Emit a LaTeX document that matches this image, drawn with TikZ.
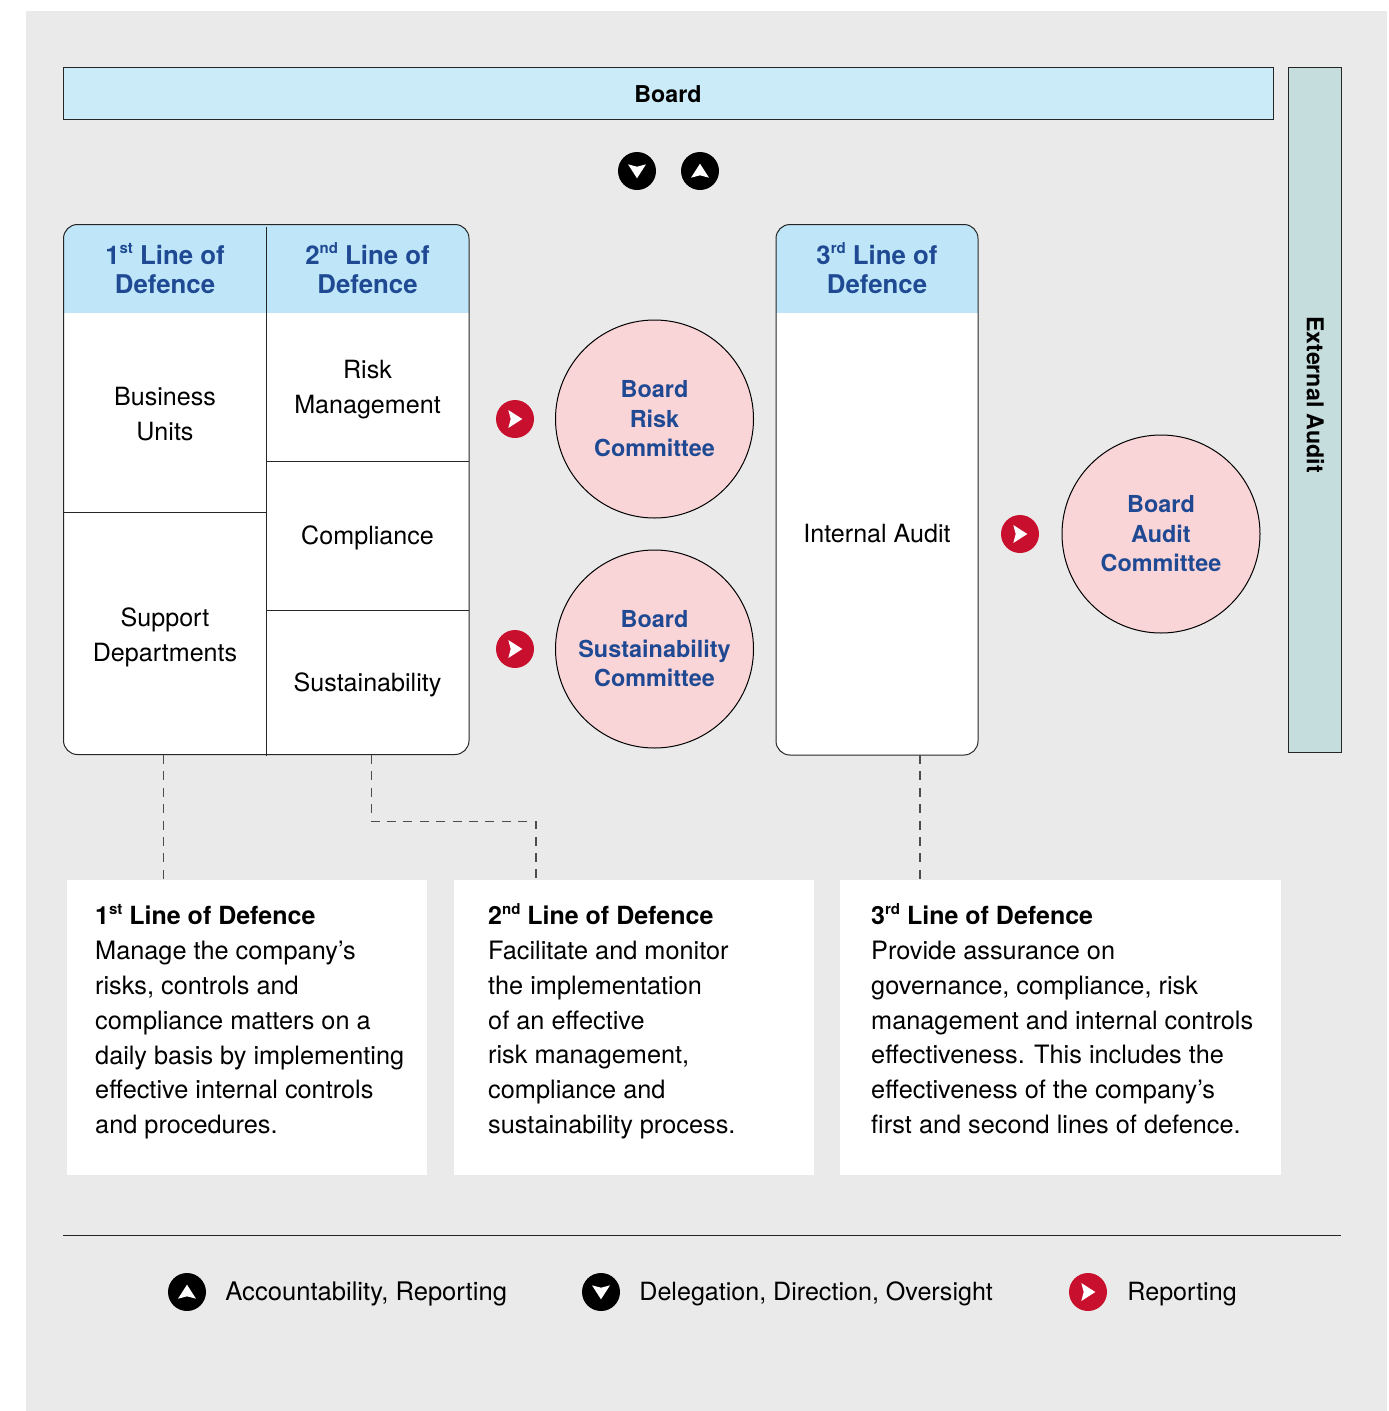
\documentclass[tikz,border=0pt]{standalone}
\usepackage{fontspec}
\setmainfont{TeX Gyre Heros}
\usetikzlibrary{positioning}
\definecolor{panelgrey}{HTML}{EAEAEA}
\definecolor{boardblue}{HTML}{CCEBF9}
\definecolor{headblue}{HTML}{BEE6F8}
\definecolor{auditteal}{HTML}{C6DDDE}
\definecolor{rosefill}{HTML}{FAD5D8}
\definecolor{titleblue}{HTML}{1F4A93}
\definecolor{flagred}{HTML}{C8102E}
\tikzset{
  plain/.style={font=\fontsize{25.1}{35}\selectfont,align=center,inner sep=0pt},
  headtext/.style={font=\fontsize{25.8}{29.5}\bfseries\selectfont,text=titleblue,align=center,inner sep=0pt},
  bartext/.style={font=\fontsize{23.2}{29}\bfseries\selectfont,inner sep=0pt},
  committee/.style={circle,draw,fill=rosefill,line width=1pt,minimum size=198pt,inner sep=0pt,
    font=\fontsize{23.4}{29.5}\bfseries\selectfont,text=titleblue,align=center},
  descbox/.style={fill=white,anchor=north west,inner sep=0pt,minimum height=295pt},
  desctext/.style={font=\fontsize{25.3}{34.8}\selectfont,align=left,anchor=north west,inner sep=0pt},
  icon/.style={circle,minimum size=38pt,inner sep=0pt},
  rule/.style={line width=1pt,black!85},
  dashline/.style={line width=1.3pt,black!70,dash pattern=on 9pt off 7.4pt}
}
\newcommand{\flagicon}[4]{%
  \node[icon,fill=#3] (#1) at (#2) {};
  \fill[white,shift={(#1)},rotate=#4] (-6.7,-9) -- (7.3,0) -- (-6.7,9) -- (-4.3,0) -- cycle;
}
\newcommand{\ordmark}[1]{\raisebox{0.42em}{\fontsize{15}{15}\selectfont #1}}
\newcommand{\desctitle}[1]{{\fontsize{25}{34.8}\bfseries\selectfont #1}}
\begin{document}
\begin{tikzpicture}[x=1pt,y=-1pt]
\useasboundingbox (0,0) rectangle (1389,1411);
\fill [panelgrey] (26,11) rectangle (1387,1411);
% board and external audit bars
\draw [rule,fill=boardblue] (63.5,67.5) rectangle (1273,119.5);
\node [bartext] (board) at (668,94) {Board};
\draw [rule,fill=auditteal] (1288.5,67) rectangle (1341,752);
\node [bartext,rotate=-90] (extaudit) at (1315.5,394.5) {External Audit};
\flagicon{downboard}{637,171}{black}{-90}
\flagicon{upboard}{700,171}{black}{90}
% first and second line table
\fill [white,rounded corners=14pt] (63.5,224.5) rectangle (469,754.5);
\begin{scope}
\clip [rounded corners=14pt] (63.5,224.5) rectangle (469,754.5);
\fill [headblue] (63.5,224.5) rectangle (469,313);
\end{scope}
\draw [rule,rounded corners=14pt] (63.5,224.5) rectangle (469,754.5);
\draw [rule] (266.5,227) -- (266.5,756);
\draw [rule] (64,512) -- (266.5,512);
\draw [rule] (266.5,461) -- (469,461);
\draw [rule] (266.5,610) -- (469,610);
\node [headtext] (headone) at (165,268.5) {1\ordmark{st} Line of\\Defence};
\node [headtext] (headtwo) at (367.5,268) {2\ordmark{nd} Line of\\Defence};
\node [plain] (units) at (165,414) {Business\\Units};
\node [plain] (support) at (165,637) {Support\\Departments};
\node [plain] (riskmgmt) at (367.5,390) {Risk\\Management};
\node [plain] (compliance) at (367.5,537.5) {Compliance};
\node [plain] (sustain) at (367.5,684.5) {Sustainability};
% third line table
\fill [white,rounded corners=14pt] (776,224.5) rectangle (978,755);
\begin{scope}
\clip [rounded corners=14pt] (776,224.5) rectangle (978,755);
\fill [headblue] (776,224.5) rectangle (978,313);
\end{scope}
\draw [rule,rounded corners=14pt] (776,224.5) rectangle (978,755);
\node [headtext] (headthree) at (877,268) {3\ordmark{rd} Line of\\Defence};
\node [plain] (intaudit) at (877,534) {Internal Audit};
% committees
\node [committee] (riskcom) at (654.5,419) {Board\\Risk\\Committee};
\node [committee] (sustcom) at (654.5,649) {Board\\Sustainability\\Committee};
\node [committee] (auditcom) at (1161,534) {Board\\Audit\\Committee};
\flagicon{flagrisk}{515,419}{flagred}{0}
\flagicon{flagsust}{515,649}{flagred}{0}
\flagicon{flagaudit}{1020,534}{flagred}{0}
% description boxes
\node [descbox,minimum width=360pt] (descone) at (67,880) {};
\node [descbox,minimum width=360pt] (desctwo) at (454,880) {};
\node [descbox,minimum width=441pt] (descthree) at (840,880) {};
\node [desctext] (txtone) at (95,904) {\desctitle{1\ordmark{st} Line of Defence}\\Manage the company’s\\risks, controls and\\compliance matters on a\\daily basis by implementing\\effective internal controls\\and procedures.};
\node [desctext] (txttwo) at (488,903) {\desctitle{2\ordmark{nd} Line of Defence}\\Facilitate and monitor\\the implementation\\of an effective\\risk management,\\compliance and\\sustainability process.};
\node [desctext] (txtthree) at (871,903) {\desctitle{3\ordmark{rd} Line of Defence}\\Provide assurance on\\governance, compliance, risk\\management and internal controls\\effectiveness. This includes the\\effectiveness of the company’s\\first and second lines of defence.};
% dashed links
\coordinate (tapone) at (163.5,755);
\coordinate (taptwo) at (371.5,755);
\coordinate (landtwo) at (536,880);
\coordinate (tapthree) at (920,755);
\draw [dashline] (tapone) -- (tapone |- descone.north);
\draw [dashline] (taptwo) -- (371.5,821.5) -- (536,821.5) -- (landtwo);
\draw [dashline] (tapthree) -- (tapthree |- descthree.north);
% legend
\coordinate (ruleleft) at (63,1235.5);
\coordinate (ruleright) at (1341,1235.5);
\draw [rule] (ruleleft) -- (ruleright);
\flagicon{legup}{187,1292}{black}{90}
\node [plain,font=\fontsize{25.6}{35}\selectfont,right=19pt of legup,yshift=-2pt] (legupt) {Accountability, Reporting};
\flagicon{legdown}{601,1292}{black}{-90}
\node [plain,right=19pt of legdown,yshift=-2pt] (legdownt) {Delegation, Direction, Oversight};
\flagicon{legflag}{1088,1292}{flagred}{0}
\node [plain,right=20pt of legflag,yshift=-2pt] (legflagt) {Reporting};
\end{tikzpicture}
\end{document}
